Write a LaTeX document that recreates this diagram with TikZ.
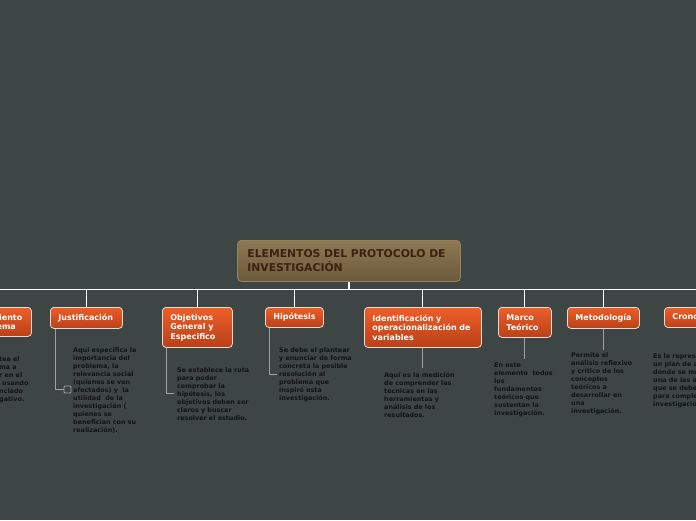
\documentclass[tikz,border=0pt]{standalone}
\usepackage{fontspec}
\setmainfont{DejaVu Sans}
\hyphenpenalty=10000
\exhyphenpenalty=10000
\definecolor{bg}{RGB}{62,69,69}
\definecolor{roottop}{RGB}{142,120,84}
\definecolor{rootbot}{RGB}{108,90,60}
\definecolor{rootedge}{RGB}{150,130,95}
\definecolor{roottext}{RGB}{58,34,18}
\definecolor{orangetop}{RGB}{236,94,40}
\definecolor{orangebot}{RGB}{186,64,24}
\definecolor{topicedge}{RGB}{230,220,212}
\definecolor{bodytext}{RGB}{20,20,20}
\definecolor{subline}{RGB}{160,162,162}
\begin{document}
\begin{tikzpicture}[x=1pt,y=-1pt,
  rootbox/.style={draw=rootedge, line width=0.8pt, rounded corners=4pt, top color=roottop, bottom color=rootbot, text=roottext, font=\bfseries\fontsize{10.8}{14}\selectfont, align=left, inner xsep=10pt, inner ysep=0pt, anchor=north west},
  topic/.style={draw=topicedge, line width=0.8pt, rounded corners=3.5pt, top color=orangetop, bottom color=orangebot, text=white, font=\bfseries\fontsize{8}{9.5}\selectfont, align=left, inner xsep=8pt, inner ysep=0pt, anchor=north west},
  body/.style={text=bodytext, font=\bfseries\fontsize{6.4}{8}\selectfont, align=left, inner sep=0pt, anchor=north west},
  busline/.style={draw=white, line width=1pt},
  stub/.style={draw=white, line width=2pt},
  sub/.style={draw=subline, line width=0.9pt},
  chkbox/.style={draw=subline, line width=0.9pt, rounded corners=1pt, minimum size=7pt, inner sep=0pt}
]
\useasboundingbox (0,0) rectangle (696,520);
\clip (0,0) rectangle (696,520);
\fill[bg] (0,0) rectangle (696,520);

% root
\node[rootbox, minimum width=223pt, minimum height=41pt, text width=203pt] (root) at (237,240) {ELEMENTOS DEL PROTOCOLO DE\\INVESTIGACIÓN};

% topics
\node[topic, text width=67pt, minimum height=29pt] (plan) at (-52,307) {Planteamiento\\del Problema};
\node[topic, text width=56pt, minimum height=21pt] (just) at (50,307) {Justificación};
\node[topic, text width=54pt, minimum height=40pt] (obj) at (162,307) {Objetivos\\General y\\Especifico};
\node[topic, text width=42pt, minimum height=20pt] (hip) at (265,307) {Hipótesis};
\node[topic, text width=101pt, minimum height=40pt] (ide) at (364,307) {Identificación y\\operacionalización de\\variables};
\node[topic, text width=37pt, minimum height=30pt] (mar) at (498,307) {Marco\\Teórico};
\node[topic, text width=56pt, minimum height=21pt] (met) at (567,307) {Metodología};
\node[topic, text width=56pt, minimum height=20pt] (cro) at (664,307) {Cronograma};

% bodies
\node[body] (plant) at (-1,356) {tea el\\ma a\\r en el\\\hspace*{3pt}usando\\nciado\\gativo.};
\node[body] (justt) at (73,347) {Aqui especifica la\\importancia del\\problema, la\\relevancia social\\(quienes se ven\\afectados) y\ \ la\\utilidad\ \ de la\\investigación (\\quienes se\\benefician con su\\realización).};
\node[body] (objt) at (177,367) {Se establece la ruta\\para poder\\comprobar la\\hipótesis, los\\objetivos deben ser\\claros y buscar\\resolver el estudio.};
\node[body] (hipt) at (279,347) {Se debe el plantear\\y enunciar de forma\\concreta la posible\\resolución al\\problema que\\inspiró esta\\investigación.};
\node[body] (idet) at (384,372) {Aquí es la medición\\de comprender las\\técnicas en las\\herramientas y\\análisis de los\\resultados.};
\node[body] (mart) at (494,363) {En este\\elemento\ \ todos\\los\\fundamentos\\teóricos que\\sustentan la\\investigación.};
\node[body] (mett) at (571,352) {Permite el\\análisis reflexivo\\y crítico de los\\conceptos\\teóricos a\\desarrollar en\\una\\investigación.};
\node[body] (crot) at (653,353) {Es la representación de\\un plan de acción\\donde se muestra cada\\una de las actividades\\que se deben realizar\\para completar la\\investigación.};

% main tree
\coordinate (bus) at ([yshift=-8pt]root.south);
\draw[stub] (root.south) -- (bus);
\draw[busline] (plan.north |- bus) -- (cro.north |- bus);
\foreach \n in {plan,just,obj,hip,ide,mar,met,cro} \draw[busline] (\n.north |- bus) -- (\n.north);

% sub connectors
\node[chkbox] (chk) at (67.5,389.5) {};
\draw[sub] ([xshift=5pt]just.south west) |- (chk.west);
\draw[sub] ([xshift=4pt]obj.south west) |- ([xshift=-3pt]objt.west);
\draw[sub] ([xshift=4pt]hip.south west) |- ([xshift=-2pt]hipt.west);
\draw[sub] (ide.south) -- ++(0,20) coordinate (idee);
\draw[sub] (mar.south) -- ++(0,21) coordinate (mare);
\draw[sub] (met.south) -- ++(0,21) coordinate (mete);
\end{tikzpicture}
\end{document}
